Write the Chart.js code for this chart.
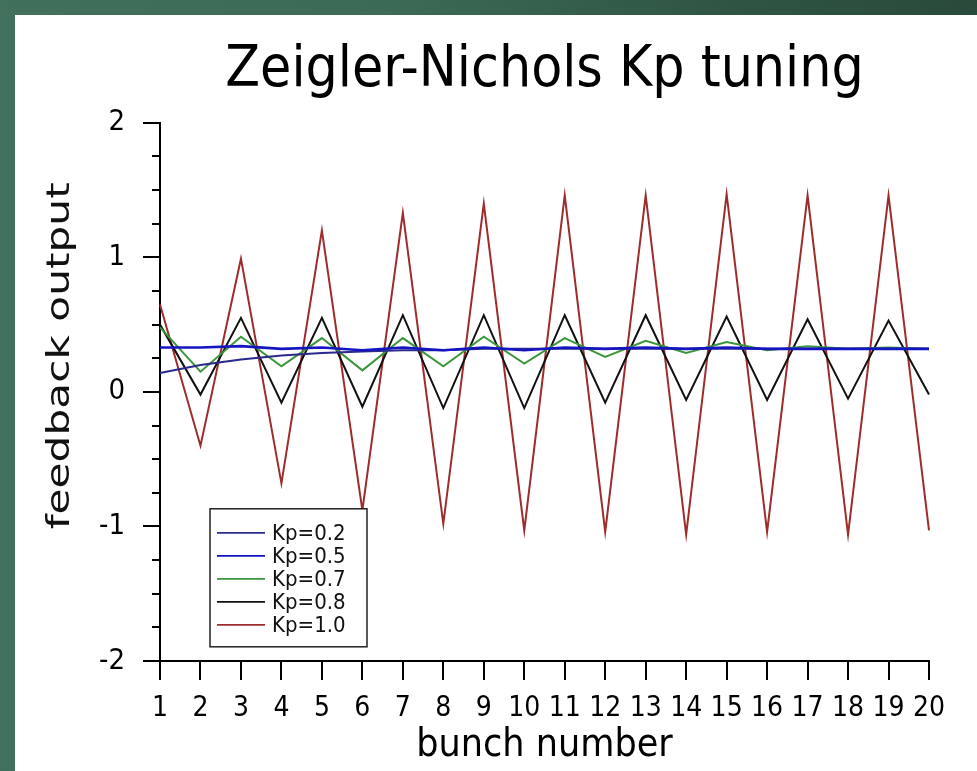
<!DOCTYPE html>
<html>
<head>
<meta charset="utf-8">
<script src="https://cdn.jsdelivr.net/npm/chart.js@4.4.1/dist/chart.umd.min.js"></script>
<style>
  html, body { margin: 0; padding: 0; }
  body {
    width: 977px; height: 771px; overflow: hidden;
    background: linear-gradient(90deg, #41705b 0%, #3b6a55 40%, #2f5542 75%, #294a3a 100%);
  }
  #panel {
    position: absolute; left: 15px; top: 15px; width: 962px; height: 756px;
    background: #ffffff;
  }
  canvas { display: block; }
</style>
</head>
<body>
<div id="panel"><canvas id="c" width="962" height="756"></canvas></div>
<script>
// ---- data ----
const titleText = 'Zeigler-Nichols Kp tuning';
const xAxisTitle = 'bunch number';
const yAxisTitle = 'feedback output';
const bunch = ['1','2','3','4','5','6','7','8','9','10','11','12','13','14','15','16','17','18','19','20'];
const seriesNames = ['Kp=0.2', 'Kp=0.5', 'Kp=0.7', 'Kp=0.8', 'Kp=1.0'];
const kp02 = [0.14, 0.20, 0.24, 0.27, 0.29, 0.30, 0.31, 0.31, 0.32, 0.32, 0.32, 0.32, 0.32, 0.32, 0.32, 0.32, 0.32, 0.32, 0.32, 0.32];
const kp05 = [0.33, 0.33, 0.34, 0.32, 0.33, 0.31, 0.33, 0.31, 0.33, 0.31, 0.33, 0.32, 0.33, 0.32, 0.33, 0.32, 0.32, 0.32, 0.32, 0.32];
const kp07 = [0.48, 0.15, 0.41, 0.19, 0.40, 0.16, 0.40, 0.19, 0.41, 0.21, 0.40, 0.26, 0.38, 0.29, 0.37, 0.31, 0.34, 0.32, 0.33, 0.32];
const kp08 = [0.50, -0.02, 0.55, -0.08, 0.55, -0.11, 0.57, -0.12, 0.57, -0.12, 0.57, -0.08, 0.57, -0.06, 0.56, -0.06, 0.54, -0.05, 0.53, -0.02];
const kp10 = [0.65, -0.40, 0.99, -0.68, 1.20, -0.88, 1.33, -0.98, 1.40, -1.03, 1.46, -1.04, 1.46, -1.06, 1.47, -1.04, 1.46, -1.06, 1.46, -1.03];
const yMajorTicks = [-2, -1, 0, 1, 2];
const yMinorTicks = [-1.75, -1.5, -1.25, -0.75, -0.5, -0.25, 0.25, 0.5, 0.75, 1.25, 1.5, 1.75];

// ---- styles ----
const colors = ['#2a2a8e', '#1414c2', '#3c973c', '#111111', '#9e2c2c'];
const widths = [2, 2.6, 2, 2, 2];
const FONT = "'DejaVu Sans Condensed', 'Liberation Sans Narrow', 'DejaVu Sans', sans-serif";
const FONT_WIDE = "'DejaVu Sans', sans-serif";

const values = [kp02, kp05, kp07, kp08, kp10];
const datasets = values.map((v, i) => ({
  label: seriesNames[i],
  data: v,
  borderColor: colors[i],
  backgroundColor: colors[i],
  borderWidth: widths[i],
  pointRadius: 0,
  tension: 0,
  fill: false,
  order: [1, 0, 2, 3, 4][i]
}));

const decorations = {
  id: 'decorations',
  afterDraw(chart) {
    const { ctx, chartArea, scales: { y } } = chart;
    ctx.save();
    // minor ticks on y axis
    ctx.strokeStyle = '#000';
    ctx.lineWidth = 2;
    yMinorTicks.forEach(v => {
      const py = Math.round(y.getPixelForValue(v));
      ctx.beginPath();
      ctx.moveTo(chartArea.left - 8, py);
      ctx.lineTo(chartArea.left, py);
      ctx.stroke();
    });

    // y axis title (stretched like the reference)
    ctx.save();
    ctx.font = "32px " + FONT_WIDE;
    ctx.fillStyle = '#111';
    ctx.textAlign = 'center';
    ctx.textBaseline = 'alphabetic';
    const w = ctx.measureText(yAxisTitle).width;
    const target = 347;
    ctx.translate(chartArea.left - 91, chartArea.top + 233);
    ctx.rotate(-Math.PI / 2);
    ctx.scale(target / w, 1);
    ctx.fillText(yAxisTitle, 0, 0);
    ctx.restore();

    // legend box
    const bx = chartArea.left + 50, by = chartArea.top + 386, bw = 157, bh = 138;
    ctx.fillStyle = '#fff';
    ctx.fillRect(bx, by, bw, bh);
    ctx.strokeStyle = '#222';
    ctx.lineWidth = 1.5;
    ctx.strokeRect(bx, by, bw, bh);
    ctx.font = "22px " + FONT;
    ctx.textBaseline = 'middle';
    ctx.textAlign = 'left';
    chart.data.datasets.forEach((d, i) => {
      const ry = by + 24 + i * 23;
      ctx.strokeStyle = d.borderColor;
      ctx.lineWidth = 1.8;
      ctx.beginPath();
      ctx.moveTo(bx + 7, ry);
      ctx.lineTo(bx + 55, ry);
      ctx.stroke();
      ctx.fillStyle = '#111';
      ctx.fillText(d.label, bx + 62, ry + 1);
    });
    ctx.restore();
  }
};

new Chart(document.getElementById('c'), {
  type: 'line',
  data: { labels: bunch, datasets },
  plugins: [decorations],
  options: {
    responsive: false,
    animation: false,
    layout: { padding: { top: 0, right: 48, bottom: 3, left: 0 } },
    plugins: {
      legend: { display: false },
      tooltip: { enabled: false },
      title: {
        display: true, text: titleText, color: '#000', fullSize: false,
        font: { family: FONT, size: 56.5, weight: 'normal', lineHeight: 1.2 },
        padding: { top: 22, bottom: 18 }
      }
    },
    scales: {
      x: {
        type: 'category', offset: false,
        grid: { drawOnChartArea: false, tickLength: 19, color: '#000', lineWidth: 2 },
        border: { display: true, color: '#000', width: 2 },
        ticks: { color: '#000', font: { family: FONT, size: 28 }, padding: 12, maxRotation: 0, autoSkip: false },
        title: { display: true, text: xAxisTitle, color: '#000', font: { family: FONT, size: 39, lineHeight: 1.15 }, padding: { top: 0, bottom: 0 } },
        afterFit: s => { s.height = 107; }
      },
      y: {
        type: 'linear', min: -2, max: 2,
        afterBuildTicks: s => { s.ticks = yMajorTicks.map(v => ({ value: v })); },
        grid: { drawOnChartArea: false, tickLength: 17, color: '#000', lineWidth: 2 },
        border: { display: true, color: '#000', width: 2 },
        ticks: { color: '#000', font: { family: FONT, size: 29 }, padding: 18 },
        afterFit: s => { s.width = 145; }
      }
    }
  }
});
</script>
</body>
</html>
